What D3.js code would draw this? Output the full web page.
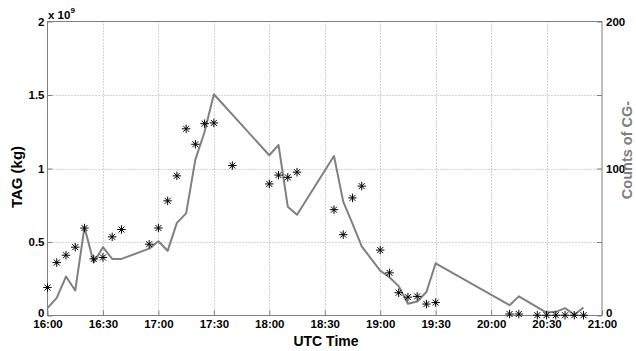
<!DOCTYPE html>
<html>
<head>
<meta charset="utf-8">
<script src="https://cdn.jsdelivr.net/npm/d3@7"></script>
<style>
  html, body { margin: 0; padding: 0; background: #fff; }
  svg { display: block; font-family: "Liberation Sans", Arial, sans-serif; }
</style>
</head>
<body>
<svg id="chart" width="636" height="351"></svg>
<script>
// ---- data ----
const cgTimes = ["16:00","16:05","16:10","16:15","16:20","16:25","16:30","16:35","16:40","16:55","17:00","17:05","17:10","17:15","17:20","17:25","17:30","18:00","18:05","18:10","18:15","18:35","18:40","18:45","18:50","19:00","19:05","19:10","19:15","19:20","19:25","19:30","20:10","20:15","20:30","20:35","20:40","20:45","20:50"];
const cgCounts = [5,12,26.5,17,60,36,46.5,38.5,38.5,45.5,50.5,44,63,69.5,106,125,150.5,109,116,74,68.5,108.5,77.5,62.5,47,30.5,26,20,8,9.5,16,35.5,7,13,2,2.5,5,0.5,5.5];

const tagTimes = ["16:00","16:05","16:10","16:15","16:20","16:25","16:30","16:35","16:40","16:55","17:00","17:05","17:10","17:15","17:20","17:25","17:30","17:40","18:00","18:05","18:10","18:15","18:35","18:40","18:45","18:50","19:00","19:05","19:10","19:15","19:20","19:25","19:30","20:10","20:15","20:25","20:30","20:35","20:40","20:45","20:50"];
const tagValues = [0.19e9,0.36e9,0.41e9,0.465e9,0.595e9,0.385e9,0.395e9,0.535e9,0.585e9,0.485e9,0.595e9,0.78e9,0.95e9,1.27e9,1.165e9,1.305e9,1.31e9,1.02e9,0.895e9,0.955e9,0.94e9,0.975e9,0.72e9,0.55e9,0.80e9,0.88e9,0.445e9,0.29e9,0.155e9,0.125e9,0.13e9,0.078e9,0.088e9,0.01e9,0.01e9,0.002e9,0.002e9,0.002e9,0.002e9,0.002e9,0.002e9];

const xTicks = ["16:00","16:30","17:00","17:30","18:00","18:30","19:00","19:30","20:00","20:30","21:00"];
const yLeftTicks = [0, 0.5e9, 1e9, 1.5e9, 2e9];
const yRightTicks = [0, 50, 100, 150, 200];
const yRightLabeled = [0, 100, 200];

// ---- helpers ----
const toMin = s => { const [h, m] = s.split(":").map(Number); return h * 60 + m; };

const svg = d3.select("#chart");
const L = 47.5, R = 602, T = 21.5, B = 315.5;
const axisCol = "#7f7f7f";
const tickFont = 11.5;

const x = d3.scaleLinear().domain([toMin("16:00"), toMin("21:00")]).range([L, R]);
const yL = d3.scaleLinear().domain([0, 2e9]).range([B, T]);
const yR = d3.scaleLinear().domain([0, 200]).range([B, T]);

// grid
const grid = svg.append("g").attr("stroke", "#a8a8a8").attr("stroke-width", 1).attr("stroke-dasharray", "1,2");
xTicks.slice(1, -1).forEach(t => {
  const px = Math.round(x(toMin(t))) + 0.5;
  grid.append("line").attr("x1", px).attr("x2", px).attr("y1", T).attr("y2", B);
});
yLeftTicks.slice(1, -1).forEach(v => {
  const py = Math.round(yL(v)) + 0.5;
  grid.append("line").attr("x1", L).attr("x2", R).attr("y1", py).attr("y2", py);
});

// box
svg.append("rect").attr("x", L).attr("y", T).attr("width", R - L).attr("height", B - T)
  .attr("fill", "none").attr("stroke", axisCol).attr("stroke-width", 1);

// axes
const xAxis = d3.axisBottom(x).tickValues(xTicks.map(toMin)).tickFormat((d, i) => xTicks[i]).tickSize(-5).tickPadding(6);
const gx = svg.append("g").attr("transform", `translate(0,${B})`).call(xAxis);
gx.select(".domain").remove();
gx.selectAll(".tick line").attr("stroke", axisCol);
gx.selectAll("text").attr("fill", "#000").attr("font-size", tickFont).attr("font-weight", "bold").attr("dy", "0.6em");

const yAxisL = d3.axisLeft(yL).tickValues(yLeftTicks).tickFormat(d => d3.format("~g")(d / 1e9)).tickSize(-5).tickPadding(3);
const gyl = svg.append("g").attr("transform", `translate(${L},0)`).call(yAxisL);
gyl.select(".domain").remove();
gyl.selectAll(".tick line").attr("stroke", axisCol);
gyl.selectAll("text").attr("fill", "#000").attr("font-size", tickFont).attr("font-weight", "bold")
  .attr("dy", d => d === 0 ? "0.05em" : "0.32em");

const yAxisR = d3.axisRight(yR).tickValues(yRightTicks).tickFormat(d => yRightLabeled.includes(d) ? d : "").tickSize(-5).tickPadding(4);
const gyr = svg.append("g").attr("transform", `translate(${R},0)`).call(yAxisR);
gyr.select(".domain").remove();
gyr.selectAll(".tick line").attr("stroke", axisCol);
gyr.selectAll("text").attr("fill", "#000").attr("font-size", tickFont).attr("font-weight", "bold")
  .attr("dy", d => d === 0 ? "0.05em" : "0.32em");

// exponent label
const ex = svg.append("text").attr("x", 48).attr("y", 19).attr("font-size", tickFont).attr("font-weight", "bold").attr("fill", "#000");
ex.append("tspan").text("x 10");
ex.append("tspan").attr("font-size", 8).attr("dy", -6).text("9");

// axis titles
svg.append("text").attr("transform", `translate(326,346)`).attr("text-anchor", "middle")
  .attr("font-size", 14).attr("font-weight", "bold").attr("fill", "#000").text("UTC Time");
svg.append("text").attr("transform", `translate(22,177) rotate(-90)`).attr("text-anchor", "middle")
  .attr("font-size", 15).attr("font-weight", "bold").attr("fill", "#000").text("TAG (kg)");
svg.append("text").attr("transform", `translate(632,150) rotate(-90)`).attr("text-anchor", "middle")
  .attr("font-size", 14.5).attr("font-weight", "bold").attr("fill", axisCol).text("Counts of CG-");

// CG line
const line = d3.line().x(d => x(toMin(d[0]))).y(d => yR(d[1]));
svg.append("path").datum(cgTimes.map((t, i) => [t, cgCounts[i]]))
  .attr("d", line).attr("fill", "none").attr("stroke", "#808080").attr("stroke-width", 2).attr("stroke-linejoin", "round");

// TAG asterisks
const asterisk = {
  draw(ctx, size) {
    const r = Math.sqrt(size) / 2;
    const d = r * Math.SQRT1_2;
    ctx.moveTo(-r, 0); ctx.lineTo(r, 0);
    ctx.moveTo(0, -r); ctx.lineTo(0, r);
    ctx.moveTo(-d, -d); ctx.lineTo(d, d);
    ctx.moveTo(-d, d); ctx.lineTo(d, -d);
  }
};
svg.append("g").selectAll("path").data(tagTimes.map((t, i) => [t, tagValues[i]])).join("path")
  .attr("transform", d => `translate(${x(toMin(d[0]))},${yL(d[1])})`)
  .attr("d", d3.symbol(asterisk, 72))
  .attr("fill", "none").attr("stroke", "#000").attr("stroke-width", 1);
</script>
</body>
</html>
